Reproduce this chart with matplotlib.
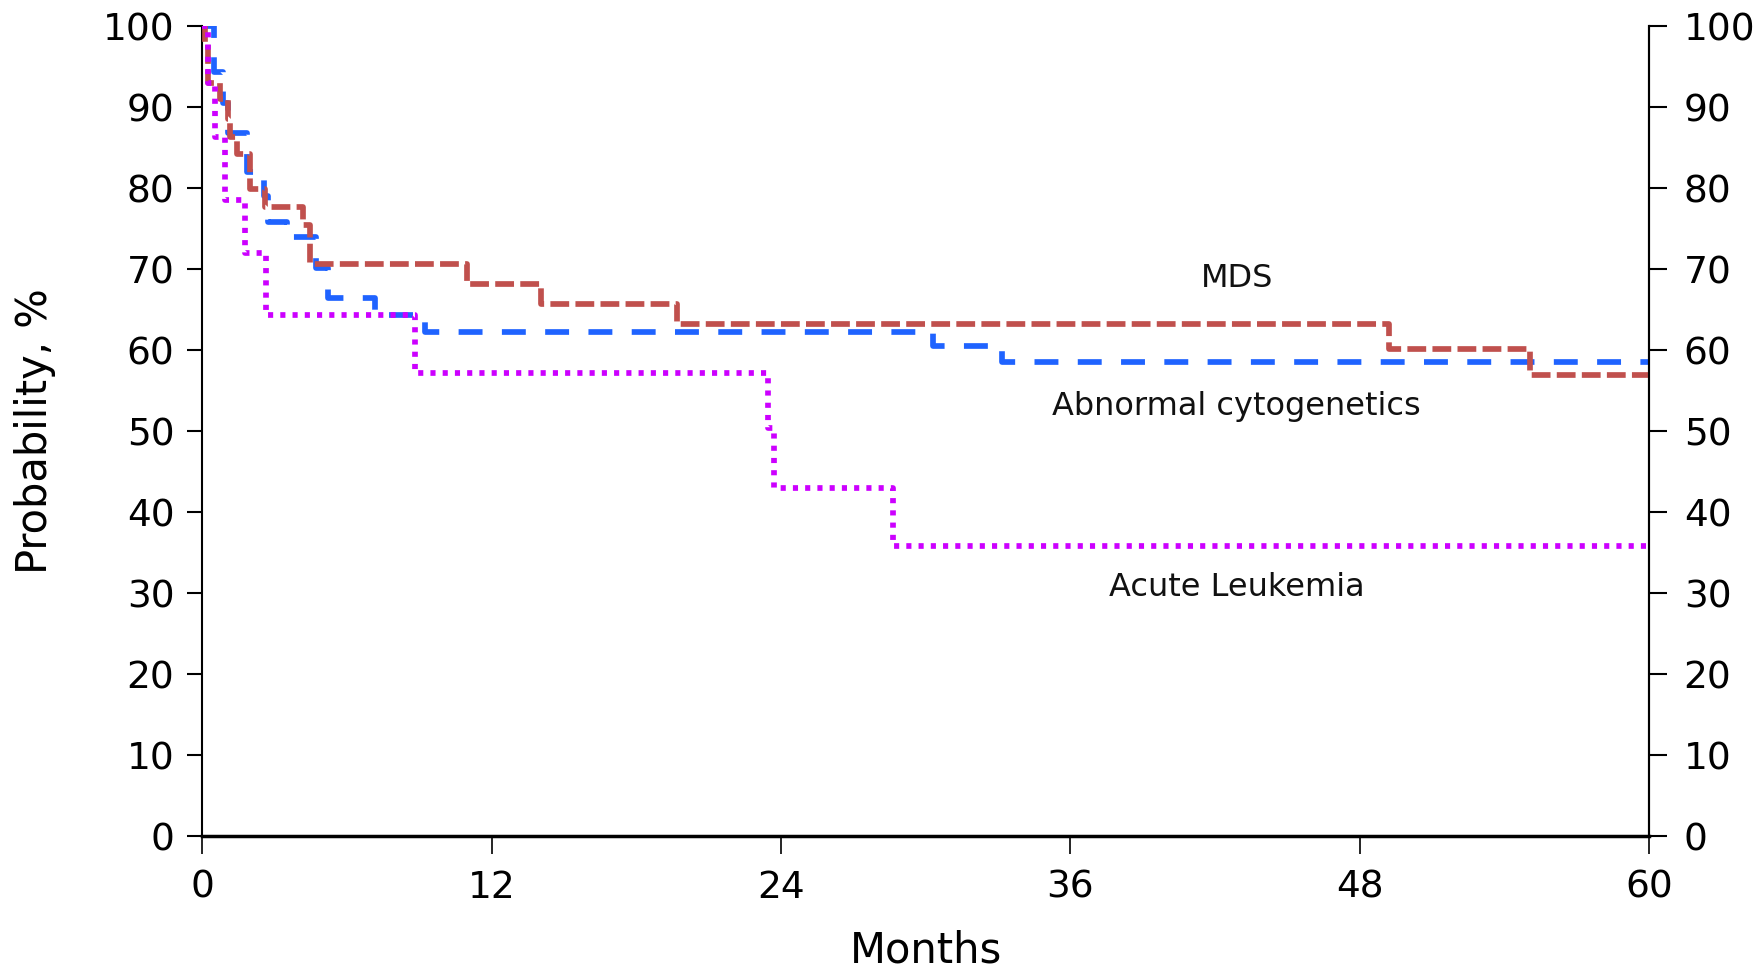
import matplotlib
matplotlib.use("Agg")
import matplotlib.pyplot as plt

# Data (months, probability %)
mds_t = [0, 0.12, 0.25, 0.75, 1.08, 1.16, 1.45, 2.0, 2.61, 4.2, 4.48, 10.97, 14.05, 19.68, 49.2, 55.07, 60]
mds_p = [100, 98, 93, 91, 88.6, 86.3, 84.2, 79.9, 77.7, 75.4, 70.7, 68.2, 65.7, 63.2, 60.1, 57.0, 57.0]

abn_t = [0, 0.47, 0.87, 1.08, 1.85, 2.57, 2.74, 3.5, 4.7, 5.22, 7.17, 9.25, 30.3, 33.15, 60]
abn_p = [100, 94.3, 90.5, 86.8, 82.0, 79.0, 75.8, 74.0, 70.1, 66.4, 64.4, 62.3, 60.5, 58.5, 58.5]

al_t = [0, 0.25, 0.54, 0.95, 1.78, 2.65, 8.83, 23.47, 23.7, 28.65, 60]
al_p = [100, 93, 86.3, 78.5, 72.0, 64.3, 57.2, 50.4, 43.0, 35.8, 35.8]

x_ticks = [0, 12, 24, 36, 48, 60]
y_ticks = [0, 10, 20, 30, 40, 50, 60, 70, 80, 90, 100]

labels = ["MDS", "Abnormal cytogenetics", "Acute Leukemia"]
label_pos = [(42.9, 68.8), (42.9, 53.1), (42.9, 30.7)]

fig = plt.figure(figsize=(17.58, 9.68), dpi=100)
ax = fig.add_axes([0.115, 0.136, 0.823, 0.837])

lw = 4.1
ax.step(mds_t, mds_p, where="post", color="#C0504D", lw=lw, dashes=(3.3, 1.1), zorder=3)
ax.step(abn_t, abn_p, where="post", color="#1F63FF", lw=lw, dashes=(4.2, 3.4), zorder=2)
ax.step(al_t, al_p, where="post", color="#CC00FF", lw=lw, dashes=(0.9, 1.25), zorder=4)

for txt, (x, y) in zip(labels, label_pos):
    ax.text(x, y, txt, ha="center", va="center", fontsize=23, color="#111111")

ax.set_xlim(0, 60)
ax.set_ylim(0, 100)
ax.set_xticks(x_ticks)
ax.set_yticks(y_ticks)
ax.tick_params(axis="y", labelsize=27, length=11, width=1.5, pad=9, direction="out")
ax.tick_params(axis="x", labelsize=27, length=13, width=1.2, pad=11, direction="out")
ax.spines["top"].set_visible(False)
ax.spines["bottom"].set_linewidth(2.5)
ax.spines["left"].set_linewidth(1.5)
ax.spines["right"].set_linewidth(1.5)

ax2 = ax.twinx()
ax2.set_ylim(0, 100)
ax2.set_yticks(y_ticks)
ax2.tick_params(axis="y", labelsize=27, length=13, width=1.5, pad=12, direction="out")
for s in ["top", "bottom", "left"]:
    ax2.spines[s].set_visible(False)
ax2.spines["right"].set_linewidth(1.5)

ax.set_xlabel("Months", fontsize=30, labelpad=17)
ax.set_ylabel("Probability, %", fontsize=30, labelpad=34)

fig.savefig("out.png", dpi=100)
